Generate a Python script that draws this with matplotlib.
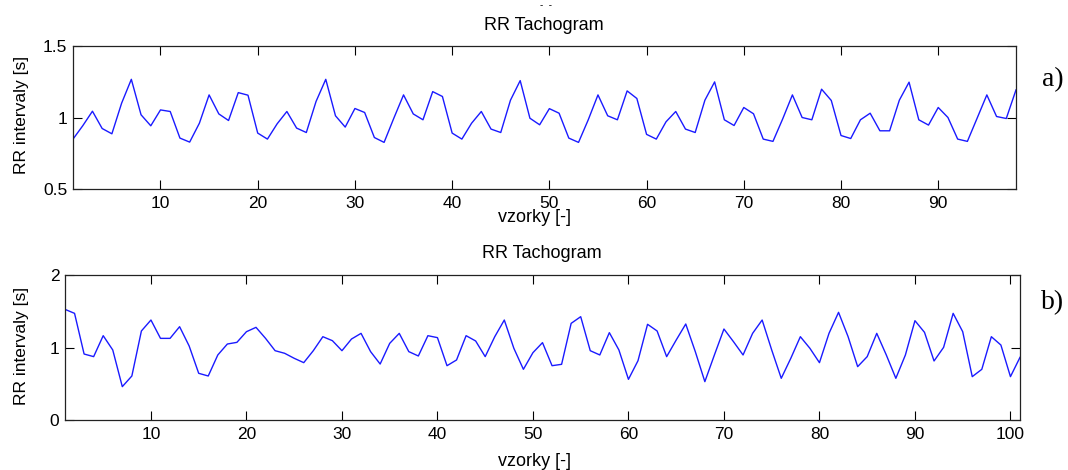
import matplotlib
matplotlib.use("Agg")
import matplotlib.pyplot as plt
import numpy as np

# ---- data ----
rr_a = [0.849, 0.942, 1.044, 0.923, 0.886, 1.100, 1.267, 1.019, 0.942, 1.053,
        1.042, 0.856, 0.828, 0.960, 1.158, 1.025, 0.979, 1.174, 1.156, 0.891,
        0.849, 0.956, 1.042, 0.926, 0.895, 1.112, 1.267, 1.012, 0.933, 1.063,
        1.035, 0.860, 0.826, 0.995, 1.158, 1.025, 0.984, 1.181, 1.147, 0.891,
        0.849, 0.960, 1.042, 0.919, 0.895, 1.121, 1.258, 0.995, 0.949, 1.062,
        1.030, 0.856, 0.826, 0.984, 1.158, 1.012, 0.984, 1.186, 1.133, 0.882,
        0.849, 0.970, 1.042, 0.919, 0.895, 1.121, 1.249, 0.984, 0.944, 1.070,
        1.026, 0.849, 0.833, 0.990, 1.158, 1.000, 0.984, 1.198, 1.119, 0.874,
        0.853, 0.984, 1.030, 0.907, 0.907, 1.121, 1.247, 0.984, 0.947, 1.070,
        1.000, 0.849, 0.833, 0.995, 1.158, 1.007, 0.993, 1.193]

rr_b = [1.526, 1.471, 0.910, 0.874, 1.163, 0.966, 0.460, 0.607, 1.228, 1.379,
        1.126, 1.126, 1.287, 1.021, 0.644, 0.607, 0.897, 1.048, 1.071, 1.218,
        1.278, 1.126, 0.956, 0.920, 0.851, 0.791, 0.956, 1.149, 1.094, 0.956,
        1.117, 1.195, 0.943, 0.772, 1.057, 1.195, 0.943, 0.883, 1.163, 1.136,
        0.749, 0.828, 1.163, 1.090, 0.874, 1.149, 1.379, 0.989, 0.699, 0.929,
        1.067, 0.749, 0.768, 1.333, 1.425, 0.956, 0.897, 1.205, 0.966, 0.561,
        0.818, 1.320, 1.228, 0.874, 1.103, 1.324, 0.943, 0.529, 0.897, 1.255,
        1.080, 0.897, 1.195, 1.379, 0.966, 0.575, 0.851, 1.149, 0.989, 0.791,
        1.195, 1.485, 1.149, 0.736, 0.874, 1.195, 0.897, 0.575, 0.897, 1.370,
        1.209, 0.814, 1.002, 1.471, 1.218, 0.598, 0.699, 1.149, 1.034, 0.598,
        0.864]

xticks_a = [10, 20, 30, 40, 50, 60, 70, 80, 90]
yticks_a = [0.5, 1, 1.5]
yticklabels_a = ["0.5", "1", "1.5"]
xticks_b = [10, 20, 30, 40, 50, 60, 70, 80, 90, 100]
yticks_b = [0, 1, 2]
yticklabels_b = ["0", "1", "2"]

title_text = "RR Tachogram"
xlabel_text = "vzorky [-]"
ylabel_text = "RR intervaly [s]"
panel_labels = ["a)", "b)"]

# ---- figure ----
W, H = 1068, 470
fig = plt.figure(figsize=(W / 100, H / 100), dpi=100)
plt.rcParams['font.family'] = ['Liberation Sans', 'DejaVu Sans']

def px(x0, y_top, x1, y_bot):
    return [x0 / W, 1 - y_bot / H, (x1 - x0) / W, (y_bot - y_top) / H]

ax1 = fig.add_axes(px(73, 46, 1016, 189))
ax2 = fig.add_axes(px(65, 275, 1020, 420))

def style(ax, data, xticks, yticks, yticklabels, ylim):
    x = np.arange(1, len(data) + 1)
    ax.plot(x, data, color=(0.1, 0.1, 1.0), lw=1.0)
    ax.set_xlim(1, len(data))
    ax.set_ylim(*ylim)
    ax.set_xticks(xticks)
    ax.set_yticks(yticks)
    ax.set_yticklabels(yticklabels)
    ax.tick_params(direction='in', length=6.5, width=0.8, top=True, right=True,
                   labelsize=12.5, colors='black')
    ax.tick_params(axis='x', pad=5)
    ax.tick_params(axis='y', pad=4)
    for s in ax.spines.values():
        s.set_linewidth(0.9)
        s.set_color('#222222')

style(ax1, rr_a, xticks_a, yticks_a, yticklabels_a, (0.5, 1.5))
style(ax2, rr_b, xticks_b, yticks_b, yticklabels_b, (0, 2))

def ftext(x, y, s, **kw):
    fig.text(x / W, 1 - y / H, s, **kw)

# titles
ftext(544, 25, title_text, ha='center', va='center', fontsize=13)
ftext(542, 254, title_text, ha='center', va='center', fontsize=13)
# xlabels
ftext(534, 218, xlabel_text, ha='center', va='center', fontsize=13)
ftext(534, 462, xlabel_text, ha='center', va='center', fontsize=13)
# ylabels
ftext(22, 115, ylabel_text, ha='center', va='center', rotation=90, fontsize=12.5)
ftext(22, 346, ylabel_text, ha='center', va='center', rotation=90, fontsize=12.5)
# panel labels
ftext(1053, 80, panel_labels[0], ha='center', va='center', fontsize=20,
      family='Liberation Serif')
ftext(1053, 303, panel_labels[1], ha='center', va='center', fontsize=20,
      family='Liberation Serif')
# cropped fragment at top
ftext(546, 5, "-  -", ha='center', va='center', fontsize=7)

fig.savefig("out.png", dpi=100)
